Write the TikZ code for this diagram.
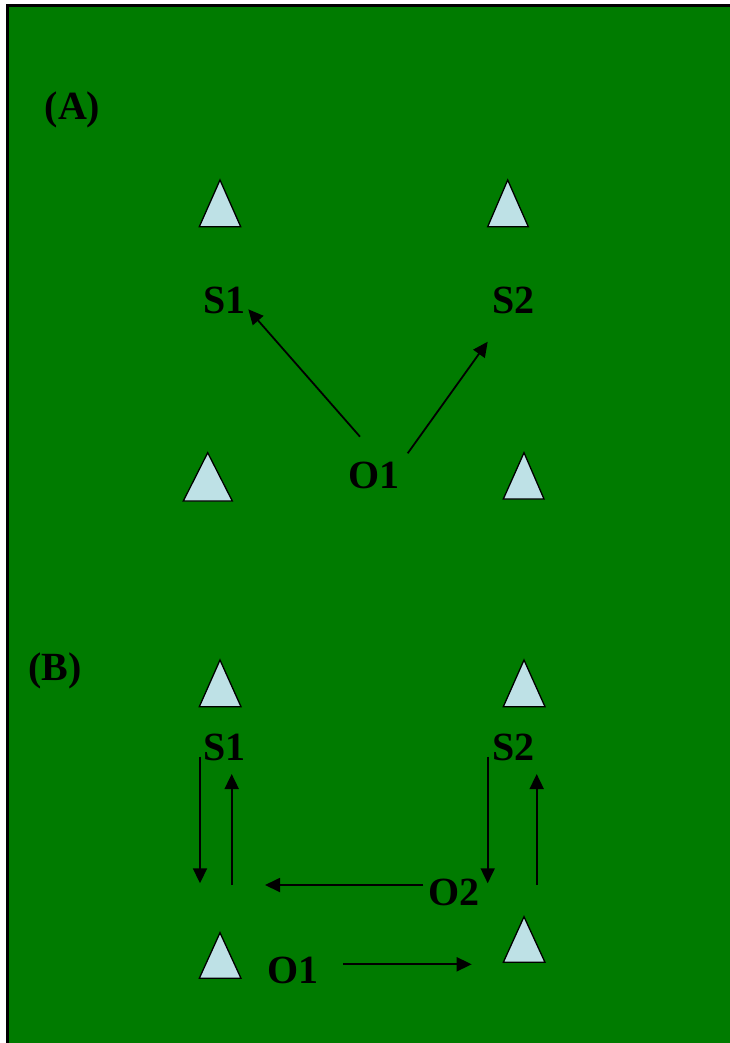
\documentclass[tikz,border=0pt]{standalone}
\usepackage{fontspec}
\setmainfont{Liberation Serif}
\usetikzlibrary{arrows.meta}
\definecolor{bggreen}{RGB}{0,123,0}
\definecolor{cone}{RGB}{190,225,230}
\tikzset{
  lbl/.style={inner sep=0pt, anchor=base, font=\bfseries\fontsize{40}{48}\selectfont},
  tri/.style={fill=cone, draw=black, line width=1.3pt, line join=miter},
  arr/.style={draw=black, line width=1.8pt, -{Triangle[length=15pt,width=14pt]}}
}
\begin{document}
\begin{tikzpicture}[x=1pt,y=-1pt]
\useasboundingbox (0,0) rectangle (730,1043);
\fill[white] (0,0) rectangle (730,1043);
\fill[bggreen] (6,4) rectangle (731,1044);
\draw[line width=2.6pt] (7.3,1044) -- (7.3,5.3) -- (731,5.3);

% ---- (A) ----
\node[lbl] (labA) at (72.5,120) {(A)};
\draw[tri] (220,180) -- (240.7,226.7) -- (199.3,226.7) -- cycle;
\draw[tri] (507.7,180) -- (528.3,226.7) -- (487.7,226.7) -- cycle;
\draw[tri] (207.7,452.7) -- (232.3,501) -- (183.3,501) -- cycle;
\draw[tri] (524,452.7) -- (544,499) -- (503.3,499) -- cycle;
\node[lbl] (aS1) at (224.7,313.3) {S1};
\node[lbl] (aS2) at (513.3,313.3) {S2};
\node[lbl] (aO1) at (373.7,488.3) {O1};
\coordinate (aO1l) at (360,436.7);
\coordinate (aO1r) at (407.7,453.3);
\coordinate (aS1t) at (248.3,309.3);
\coordinate (aS2t) at (487.7,341.7);
\draw[arr] (aO1l) -- (aS1t);
\draw[arr] (aO1r) -- (aS2t);

% ---- (B) ----
\node[lbl] (labB) at (55,680) {(B)};
\draw[tri] (220,660) -- (241,706.7) -- (199.3,706.7) -- cycle;
\draw[tri] (524,660) -- (545,706.7) -- (503.3,706.7) -- cycle;
\draw[tri] (220,932.7) -- (241,978.3) -- (199.3,978.3) -- cycle;
\draw[tri] (524,916.7) -- (545,962.3) -- (503.3,962.3) -- cycle;
\node[lbl] (bS1) at (224.5,760) {S1};
\node[lbl] (bS2) at (513.3,760) {S2};
\node[lbl] (bO2) at (454,905) {O2};
\node[lbl] (bO1) at (293.3,983.3) {O1};
\coordinate (l1a) at (200,756.7);
\coordinate (l1b) at (200,883.3);
\coordinate (l2a) at (231.7,885);
\coordinate (l2b) at (231.7,774);
\coordinate (r1a) at (487.7,756.7);
\coordinate (r1b) at (487.7,883.3);
\coordinate (r2a) at (536.7,885);
\coordinate (r2b) at (536.7,774);
\coordinate (o2a) at (423.3,885);
\coordinate (o2b) at (265,885);
\coordinate (o1a) at (343.3,964.3);
\coordinate (o1b) at (471.7,964.3);
\draw[arr] (l1a) -- (l1b);
\draw[arr] (l2a) -- (l2b);
\draw[arr] (r1a) -- (r1b);
\draw[arr] (r2a) -- (r2b);
\draw[arr] (o2a) -- (o2b);
\draw[arr] (o1a) -- (o1b);
\end{tikzpicture}
\end{document}
